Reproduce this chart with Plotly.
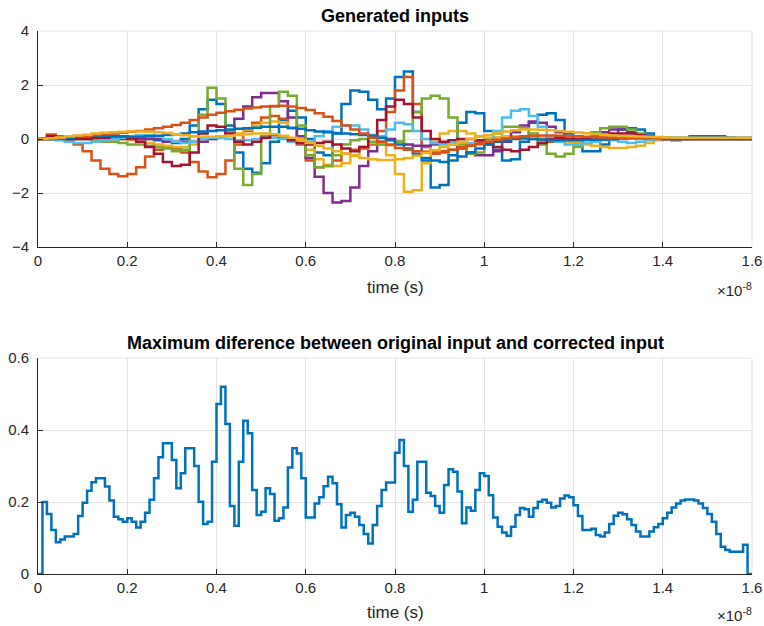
import plotly.graph_objects as go

# ---------------- data ----------------
# time axis in units of 1e-8 s
top_step = 0.02
bot_step = 0.01

s1_blue = [0.0, 0.0, 0.02, 0.05, 0.05, 0.05, 0.05, 0.05, 0.05, 0.05, 0.05, 0.05, 0.0, -0.05, -0.1, -0.15,
           0.0, 0.5, 1.1, 1.45, 1.3, 0.5, -0.5, -1.1, -1.25, -0.9, -0.1, 0.7, 1.05, 0.8, 0.0, -0.5,
           -0.6, 0.2, 1.3, 1.8, 1.75, 1.45, 1.1, 1.5, 2.3, 2.5, 1.0, -0.8, -1.8, -1.7, -0.6, 0.6,
           1.0, 0.95, 0.3, -0.4, -0.8, -0.75, -0.1, 0.6, 0.9, 0.95, 0.7, 0.2, -0.2, -0.45, -0.45, -0.2,
           0.1, 0.35, 0.4, 0.35, 0.2, 0.05, 0.0, -0.05, 0.0, 0.1, 0.1, 0.1, 0.1, 0.05, 0.0, 0.0, 0.0]
s2_orange = [0.0, 0.17, 0.1, -0.05, -0.2, -0.45, -0.8, -1.1, -1.3, -1.38, -1.3, -1.05, -0.65, -0.4, -0.3, -0.35,
             -0.5, -0.85, -1.2, -1.42, -1.3, -0.8, -0.2, 0.3, 0.6, 0.8, 0.85, 0.75, 0.4, -0.2, -0.8, -1.05,
             -1.0, -0.8, -0.55, -0.4, -0.35, -0.2, 0.3, 1.0, 1.8, 2.3, 1.3, -0.3, -0.55, -0.5, -0.4, -0.3,
             -0.2, -0.1, 0.0, 0.05, 0.1, 0.1, 0.05, 0.0, -0.05, -0.1, -0.1, -0.1, -0.05, 0.0, 0.0, 0.05,
             0.05, 0.05, 0.05, 0.03, 0.02, 0.0, 0.0, 0.0, 0.0, 0.0, 0.0, 0.0, 0.0, 0.0, 0.0, 0.0, 0.0]
s3_yellow = [0.0, 0.0, 0.05, 0.05, 0.05, 0.05, 0.05, 0.05, 0.0, 0.0, -0.05, -0.1, -0.15, -0.2, -0.25, -0.3,
             -0.3, -0.2, -0.1, 0.0, 0.05, 0.1, 0.2, 0.35, 0.5, 0.6, 0.65, 0.6, 0.4, 0.0, -0.4, -0.75,
             -0.95, -1.0, -0.9, -0.6, -0.3, -0.15, -0.2, -0.6, -1.3, -1.95, -1.9, -0.9, -0.1, 0.2, 0.3, 0.3,
             0.2, 0.1, 0.05, 0.05, 0.1, 0.1, 0.1, 0.1, 0.05, 0.0, -0.05, -0.1, -0.15, -0.2, -0.25, -0.3,
             -0.33, -0.33, -0.3, -0.25, -0.15, -0.05, 0.0, 0.0, 0.0, 0.0, 0.0, 0.0, 0.0, 0.0, 0.0, 0.0, 0.0]
s4_purple = [0.0, 0.0, 0.0, 0.0, 0.0, 0.0, 0.0, 0.0, 0.0, 0.0, 0.0, 0.0, 0.0, 0.0, -0.1, -0.1,
             -0.1, -0.1, -0.1, 0.0, 0.1, 0.3, 0.75, 1.2, 1.55, 1.7, 1.7, 1.4, 0.8, 0.1, -0.7, -1.4,
             -2.0, -2.35, -2.3, -1.8, -1.0, -0.45, -0.1, 0.0, -0.1, -0.2, -0.25, -0.25, -0.2, -0.15, -0.2, -0.35,
             -0.5, -0.6, -0.6, -0.45, -0.1, 0.25, 0.5, 0.65, 0.6, 0.45, 0.25, 0.1, 0.0, 0.0, 0.1, 0.25,
             0.35, 0.35, 0.25, 0.15, 0.05, 0.0, 0.0, 0.0, 0.0, 0.0, 0.0, 0.0, 0.0, 0.0, 0.0, 0.0, 0.0]
s5_green = [0.0, 0.0, 0.0, 0.0, 0.0, 0.0, -0.05, -0.1, -0.1, -0.15, -0.2, -0.2, -0.25, -0.3, -0.35, -0.45,
            -0.4, 0.1, 0.9, 1.9, 1.5, 0.3, -1.1, -1.7, -1.3, 0.1, 1.2, 1.75, 1.6, 0.5, -0.6, -1.05,
            -1.0, -0.6, -0.2, -0.05, 0.0, -0.1, -0.2, -0.2, -0.1, 0.3, 1.0, 1.5, 1.6, 1.5, 0.8, -0.2,
            -0.55, -0.5, -0.2, 0.2, 0.45, 0.45, 0.4, 0.2, -0.2, -0.55, -0.65, -0.55, -0.3, 0.0, 0.25, 0.4,
            0.45, 0.45, 0.35, 0.2, 0.1, 0.05, 0.0, 0.0, 0.0, 0.0, 0.0, 0.0, 0.0, 0.0, 0.0, 0.0, 0.0]
s6_lightblue = [0.0, 0.05, -0.05, -0.1, -0.15, -0.15, -0.1, -0.05, 0.0, 0.05, 0.1, 0.15, 0.15, 0.1, 0.0, -0.1,
                -0.15, -0.1, 0.0, 0.05, 0.05, 0.0, -0.05, -0.05, 0.0, 0.05, 0.05, 0.0, -0.1, -0.15, -0.1, 0.1,
                0.3, 0.45, 0.5, 0.5, 0.35, 0.15, 0.1, 0.35, 0.6, 0.55, 0.3, 0.0, -0.15, -0.2, -0.15, -0.1,
                -0.15, -0.2, -0.1, 0.3, 0.8, 1.05, 1.1, 0.85, 0.45, 0.1, -0.1, -0.2, -0.2, -0.15, -0.1, -0.05,
                -0.05, -0.1, -0.15, -0.1, -0.05, 0.0, 0.0, 0.0, 0.0, 0.0, 0.0, 0.0, 0.0, 0.0, 0.0, 0.0, 0.0]
s7_darkred = [0.0, 0.1, 0.05, 0.0, 0.0, 0.0, 0.05, 0.05, 0.1, 0.1, 0.05, -0.1, -0.3, -0.55, -0.85, -1.0,
              -0.95, -0.5, 0.2, 0.5, 0.45, 0.2, -0.1, -0.2, -0.1, 0.05, 0.15, 0.1, -0.05, -0.15, -0.2, -0.15,
              -0.1, -0.2, -0.35, -0.45, -0.3, 0.1, 0.7, 1.2, 1.45, 1.3, 0.8, 0.3, 0.0, -0.1, -0.05, 0.0,
              0.0, -0.05, -0.15, -0.3, -0.4, -0.45, -0.4, -0.3, -0.15, 0.0, 0.05, 0.0, 0.0, 0.05, 0.1, 0.15,
              0.2, 0.2, 0.2, 0.15, 0.1, 0.05, 0.0, 0.0, 0.0, 0.0, 0.0, 0.0, 0.0, 0.0, 0.0, 0.0, 0.0]
s8_blue = [0.0, 0.0, 0.02, 0.05, 0.08, 0.1, 0.12, 0.12, 0.12, 0.1, 0.08, 0.08, 0.1, 0.12, 0.15, 0.18,
           0.2, 0.25, 0.28, 0.3, 0.32, 0.35, 0.38, 0.4, 0.42, 0.45, 0.45, 0.45, 0.42, 0.38, 0.32, 0.28,
           0.25, 0.22, 0.2, 0.18, 0.15, 0.12, 0.05, -0.05, -0.2, -0.35, -0.55, -0.7, -0.8, -0.85, -0.8, -0.65,
           -0.5, -0.35, -0.2, -0.1, -0.05, 0.0, 0.02, 0.0, -0.02, -0.04, -0.05, -0.05, -0.05, -0.04, -0.03, -0.02,
           0.0, 0.02, 0.03, 0.04, 0.05, 0.05, 0.05, 0.05, 0.05, 0.05, 0.05, 0.05, 0.05, 0.05, 0.05, 0.05, 0.05]
s9_orange = [0.0, 0.02, 0.05, 0.08, 0.1, 0.12, 0.15, 0.18, 0.2, 0.23, 0.27, 0.3, 0.35, 0.4, 0.45, 0.52,
             0.6, 0.7, 0.8, 0.9, 0.97, 1.03, 1.08, 1.13, 1.17, 1.2, 1.22, 1.23, 1.2, 1.15, 1.07, 0.95,
             0.82, 0.67, 0.5, 0.35, 0.2, 0.05, -0.1, -0.22, -0.33, -0.4, -0.45, -0.47, -0.47, -0.45, -0.4, -0.32,
             -0.25, -0.18, -0.1, -0.03, 0.02, 0.06, 0.1, 0.12, 0.13, 0.13, 0.12, 0.11, 0.1, 0.08, 0.07, 0.06,
             0.05, 0.05, 0.04, 0.04, 0.03, 0.03, 0.03, 0.03, 0.03, 0.03, 0.03, 0.03, 0.03, 0.03, 0.03, 0.03, 0.03]
s10_yellow = [0.0, 0.03, 0.06, 0.1, 0.13, 0.16, 0.2, 0.23, 0.25, 0.27, 0.28, 0.28, 0.27, 0.25, 0.22, 0.18,
              0.14, 0.1, 0.08, 0.08, 0.1, 0.12, 0.15, 0.18, 0.2, 0.2, 0.18, 0.12, 0.05, -0.05, -0.15, -0.25,
              -0.35, -0.45, -0.55, -0.63, -0.7, -0.75, -0.78, -0.78, -0.75, -0.7, -0.62, -0.52, -0.42, -0.3, -0.2, -0.1,
              0.0, 0.08, 0.15, 0.22, 0.28, 0.32, 0.35, 0.35, 0.34, 0.32, 0.3, 0.27, 0.24, 0.21, 0.18, 0.15,
              0.13, 0.11, 0.1, 0.09, 0.08, 0.07, 0.06, 0.05, 0.05, 0.05, 0.05, 0.05, 0.05, 0.05, 0.05, 0.05, 0.05]

max_diff = [0.0, 0.200, 0.167, 0.122, 0.088, 0.096, 0.104, 0.104, 0.111, 0.161,
            0.198, 0.231, 0.255, 0.266, 0.266, 0.243, 0.204, 0.159, 0.152, 0.145,
            0.155, 0.145, 0.129, 0.145, 0.170, 0.206, 0.266, 0.324, 0.363, 0.363,
            0.317, 0.238, 0.280, 0.349, 0.349, 0.300, 0.201, 0.139, 0.145, 0.312,
            0.472, 0.520, 0.417, 0.189, 0.134, 0.312, 0.426, 0.391, 0.233, 0.164,
            0.173, 0.238, 0.222, 0.148, 0.155, 0.185, 0.296, 0.349, 0.335, 0.266,
            0.157, 0.157, 0.196, 0.213, 0.244, 0.270, 0.252, 0.194, 0.129, 0.164,
            0.170, 0.159, 0.136, 0.111, 0.085, 0.136, 0.189, 0.233, 0.254, 0.254,
            0.337, 0.372, 0.300, 0.173, 0.206, 0.312, 0.312, 0.226, 0.217, 0.189,
            0.170, 0.247, 0.291, 0.284, 0.229, 0.141, 0.185, 0.176, 0.233, 0.280,
            0.272, 0.219, 0.157, 0.131, 0.115, 0.106, 0.131, 0.164, 0.183, 0.180,
            0.159, 0.183, 0.201, 0.206, 0.198, 0.185, 0.189, 0.210, 0.218, 0.213,
            0.191, 0.161, 0.122, 0.122, 0.126, 0.108, 0.104, 0.115, 0.139, 0.162,
            0.170, 0.166, 0.152, 0.136, 0.118, 0.104, 0.104, 0.118, 0.130, 0.139,
            0.155, 0.170, 0.185, 0.196, 0.204, 0.207, 0.207, 0.204, 0.196, 0.183,
            0.167, 0.145, 0.111, 0.076, 0.067, 0.062, 0.062, 0.062, 0.081, 0.0, 0.0]

top_series = [s1_blue, s2_orange, s3_yellow, s4_purple, s5_green,
              s6_lightblue, s7_darkred, s8_blue, s9_orange, s10_yellow]
colors = ["#0072BD", "#D95319", "#EDB120", "#7E2F8E", "#77AC30",
          "#4DBEEE", "#A2142F", "#0072BD", "#D95319", "#EDB120"]

x_ticks = [0, 0.2, 0.4, 0.6, 0.8, 1.0, 1.2, 1.4, 1.6]
x_ticktext = ["0", "0.2", "0.4", "0.6", "0.8", "1", "1.2", "1.4", "1.6"]
y_top_ticks = [-4, -2, 0, 2, 4]
y_bot_ticks = [0, 0.2, 0.4, 0.6]
y_bot_ticktext = ["0", "0.2", "0.4", "0.6"]

# ---------------- figure ----------------
W, H = 764, 626
L, R = 38, 752          # plot-area left/right (pixels)
T1, B1 = 31, 247        # top axes top/bottom
T2, B2 = 358, 574       # bottom axes top/bottom
ML, MR, MT, MB = L, W - R, T1, H - B2
PW, PH = W - ML - MR, H - MT - MB

FONT = "Liberation Sans, Arial, Helvetica, sans-serif"
AX = "#262626"
GRID = "#e3e3e3"


def fx(p):  # pixel x -> paper x
    return (p - ML) / PW


def fy(p):  # pixel y -> paper y
    return (H - MB - p) / PH


fig = go.Figure()
for vals, col in zip(top_series, colors):
    xs = [round(i * top_step, 4) for i in range(len(vals))]
    fig.add_trace(go.Scatter(x=xs, y=vals, mode="lines", line=dict(color=col, width=2.5, shape="hv"),
                             xaxis="x", yaxis="y", showlegend=False, hoverinfo="skip"))

xb = [round(i * bot_step, 4) for i in range(len(max_diff))]
fig.add_trace(go.Scatter(x=xb, y=max_diff, mode="lines", line=dict(color="#0072BD", width=2.5, shape="hv"),
                         xaxis="x2", yaxis="y2", showlegend=False, hoverinfo="skip"))

common_x = dict(range=[0, 1.6], tickvals=x_ticks, ticktext=x_ticktext, showgrid=True, gridcolor=GRID,
                gridwidth=1, zeroline=False, showline=True, linecolor=AX, linewidth=1, ticks="inside",
                ticklen=5, tickcolor=AX, tickfont=dict(family=FONT, size=15, color=AX), mirror=False,
                automargin=False, domain=[0, 1])
common_y = dict(showgrid=True, gridcolor=GRID, gridwidth=1, zeroline=False, showline=True, linecolor=AX,
                linewidth=1, ticks="inside", ticklen=5, tickcolor=AX, ticklabelstandoff=5,
                tickfont=dict(family=FONT, size=15, color=AX), mirror=False, automargin=False)

fig.update_layout(
    template="none",
    width=W, height=H, margin=dict(l=ML, r=MR, t=MT, b=MB, pad=0, autoexpand=False),
    paper_bgcolor="white", plot_bgcolor="white",
    xaxis=dict(anchor="y", **common_x),
    yaxis=dict(domain=[fy(B1), fy(T1)], anchor="x", range=[-4, 4], tickvals=y_top_ticks, **common_y),
    xaxis2=dict(anchor="y2", **common_x),
    yaxis2=dict(domain=[fy(B2), fy(T2)], anchor="x2", range=[0, 0.6], tickvals=y_bot_ticks,
                ticktext=y_bot_ticktext, **common_y),
)

# light box edges (top and right), like MATLAB's grid at the limits
for xa, ya in (("x", "y"), ("x2", "y2")):
    fig.add_shape(type="line", xref=f"{xa} domain", yref=f"{ya} domain", x0=0, x1=1, y0=1, y1=1,
                  line=dict(color=GRID, width=1), layer="below")
    fig.add_shape(type="line", xref=f"{xa} domain", yref=f"{ya} domain", x0=1, x1=1, y0=0, y1=1,
                  line=dict(color=GRID, width=1), layer="below")

cx = fx((L + R) / 2)


def text(t, x, y, size, color=AX, xanchor="center"):
    return dict(text=t, x=x, y=y, xref="paper", yref="paper", xanchor=xanchor, yanchor="middle",
                showarrow=False, font=dict(family=FONT, size=size, color=color))


ann = [
    text("<b>Generated inputs</b>", cx, fy(16), 18, "black"),
    text("<b>Maximum diference between original input and corrected input</b>", cx, fy(343), 18, "black"),
    text("time (s)", cx, fy(287), 17),
    text("time (s)", cx, fy(612), 17),
    text("×10<sup>-8</sup>", fx(754), fy(289), 15, AX, "right"),
    text("×10<sup>-8</sup>", fx(754), fy(614), 15, AX, "right"),
]
fig.update_layout(annotations=ann)

# remove the browser's default page margin so the figure fills the window exactly
fig.write_html("out.html", config={"displayModeBar": False, "staticPlot": True},
               post_script="document.body.style.margin='0px';document.body.style.overflow='hidden';")
